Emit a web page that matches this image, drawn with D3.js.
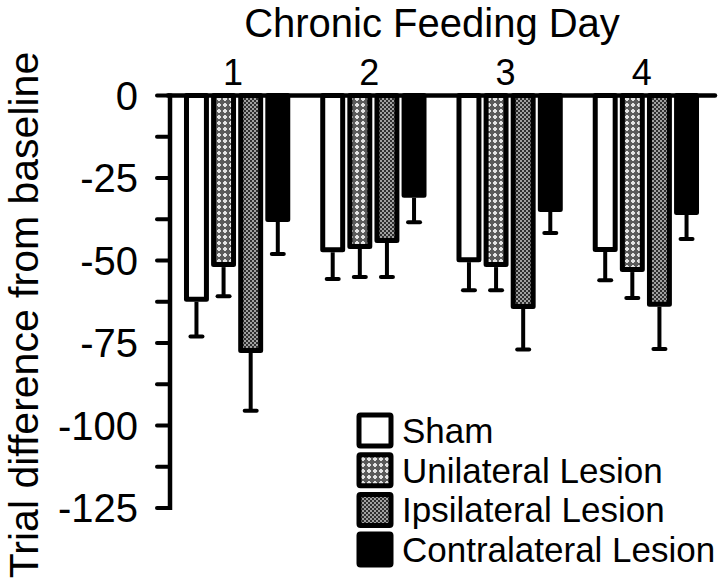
<!DOCTYPE html>
<html><head><meta charset="utf-8">
<script src="https://cdn.jsdelivr.net/npm/d3@7"></script>
<style>body{margin:0;background:#fff}svg{display:block;font-family:"Liberation Sans",Arial,sans-serif}</style>
</head><body>
<script>
const days = ["1","2","3","4"];
const groups = ["Sham","Unilateral Lesion","Ipsilateral Lesion","Contralateral Lesion"];
const shamMean = [-62.5,-47.5,-50.5,-47.4];
const shamSem = [10.5,8.1,8.5,8.6];
const uniMean = [-52,-46.5,-52,-53.5];
const uniSem = [8.8,8.5,7,7.9];
const ipsiMean = [-78,-44.7,-64.7,-64];
const ipsiSem = [17.5,10.3,12.3,12.8];
const contraMean = [-38.3,-31,-35.3,-36.2];
const contraSem = [9.7,7.4,6.4,7.3];
const yTicks = [0,-25,-50,-75,-100,-125];
const yMinor = [-12.5,-37.5,-62.5,-87.5,-112.5];

const means = [shamMean, uniMean, ipsiMean, contraMean];
const sems = [shamSem, uniSem, ipsiSem, contraSem];
const fills = ["#fff","url(#pUni)","url(#pIpsi)","#000"];

const W = 720, H = 588;
const svg = d3.select("body").append("svg").attr("width",W).attr("height",H);
const defs = svg.append("defs");
const pu = defs.append("pattern").attr("id","pUni").attr("patternUnits","userSpaceOnUse").attr("width",6).attr("height",6);
pu.append("rect").attr("width",6).attr("height",6).attr("fill","#5a5a5a");
pu.append("rect").attr("x",1).attr("y",2).attr("width",4).attr("height",2).attr("fill","#e2e2e2");
pu.append("rect").attr("x",2).attr("y",1).attr("width",2).attr("height",4).attr("fill","#e2e2e2");
const pi = defs.append("pattern").attr("id","pIpsi").attr("patternUnits","userSpaceOnUse").attr("width",4).attr("height",4);
pi.append("rect").attr("width",4).attr("height",4).attr("fill","#2e2e2e");
pi.append("rect").attr("x",0).attr("y",0).attr("width",2).attr("height",2).attr("fill","#a0a0a0");
pi.append("rect").attr("x",2).attr("y",2).attr("width",2).attr("height",2).attr("fill","#a0a0a0");

const y = d3.scaleLinear().domain([-125,0]).range([508,95.5]);
const x0 = d3.scaleBand().domain(days).range([169,714]).paddingInner(0.22).paddingOuter(0.11);
const x1 = d3.scaleBand().domain(groups).range([0,x0.bandwidth()]).paddingInner(0.08);

const data = [];
days.forEach((d,i)=>groups.forEach((g,j)=>data.push({day:d,group:g,j,mean:means[j][i],sem:sems[j][i]})));

const sw = 5;
const g = svg.append("g");
const cx = d=>x0(d.day)+x1(d.group)+x1.bandwidth()/2;
const eb = g.selectAll(".eb").data(data).enter().append("g");
eb.append("line")
  .attr("x1",cx).attr("x2",cx)
  .attr("y1",d=>y(d.mean)).attr("y2",d=>y(d.mean-d.sem))
  .attr("stroke","#000").attr("stroke-width",4);
eb.append("line")
  .attr("x1",d=>cx(d)-6).attr("x2",d=>cx(d)+6)
  .attr("y1",d=>y(d.mean-d.sem)).attr("y2",d=>y(d.mean-d.sem))
  .attr("stroke","#000").attr("stroke-width",4).attr("stroke-linecap","round");
g.selectAll(".bar").data(data).enter().append("rect")
  .attr("x",d=>x0(d.day)+x1(d.group)+sw/2)
  .attr("width",x1.bandwidth()-sw)
  .attr("y",y(0))
  .attr("height",d=>y(d.mean)-y(0)-sw/2)
  .attr("fill",d=>fills[d.j])
  .attr("stroke","#000").attr("stroke-width",sw).attr("stroke-linejoin","round");

const ya = svg.append("g");
ya.append("line").attr("x1",170).attr("x2",170).attr("y1",y(0)-2).attr("y2",y(-125)+2).attr("stroke","#000").attr("stroke-width",4.5);
ya.selectAll(".tk").data(yTicks.concat(yMinor)).enter().append("line")
  .attr("x1",157).attr("x2",170).attr("y1",d=>y(d)).attr("y2",d=>y(d))
  .attr("stroke","#000").attr("stroke-width",4).attr("stroke-linecap","round");
ya.selectAll(".tl").data(yTicks).enter().append("text")
  .attr("x",138).attr("y",d=>y(d)).attr("dy","0.36em").attr("text-anchor","end")
  .attr("font-size",40).text(d=>d);
svg.append("line").attr("x1",168).attr("x2",715).attr("y1",y(0)).attr("y2",y(0)).attr("stroke","#000").attr("stroke-width",4.5).attr("stroke-linecap","round");
svg.selectAll(".cl").data(days).enter().append("text")
  .attr("x",d=>x0(d)+x0.bandwidth()/2-4).attr("y",85).attr("text-anchor","middle")
  .attr("font-size",36).text(d=>d);
svg.append("text").attr("x",432).attr("y",37).attr("text-anchor","middle").attr("font-size",40).text("Chronic Feeding Day");
svg.append("text").attr("transform","translate(38,315) rotate(-90)").attr("text-anchor","middle").attr("font-size",41).text("Trial difference from baseline");

const lg = svg.append("g");
groups.forEach((gname,j)=>{
  const ty = 413 + j*39.7;
  lg.append("rect").attr("x",359).attr("y",ty+2).attr("width",32).attr("height",31)
    .attr("fill",fills[j]).attr("stroke","#000").attr("stroke-width",5).attr("rx",1.5);
  lg.append("text").attr("x",402).attr("y",ty+30).attr("font-size",35).text(gname);
});
</script>
</body></html>
